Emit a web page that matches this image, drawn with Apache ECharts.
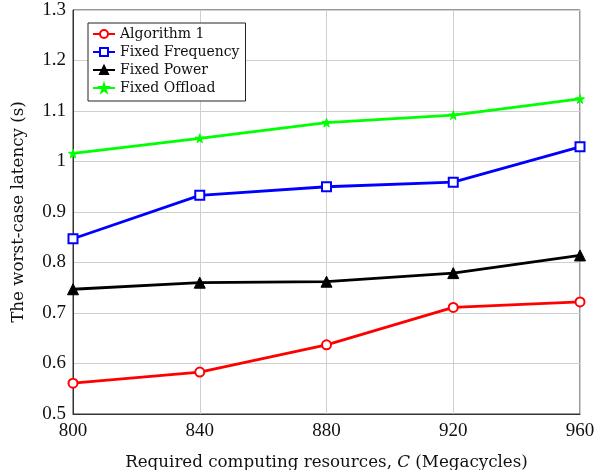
<!DOCTYPE html>
<html>
<head>
<meta charset="utf-8">
<script src="https://cdn.jsdelivr.net/npm/echarts@6/dist/echarts.min.js"></script>
<style>
  html, body { margin: 0; padding: 0; background: #fff; }
  #chart { width: 596px; height: 470px; }
</style>
</head>
<body>
<div id="chart"></div>
<script>
// Required computing resources C (Megacycles)
const resources = [800, 840, 880, 920, 960];

// Worst-case latency (s) for each scheme
const algorithm1 = [0.561, 0.583, 0.637, 0.711, 0.722];
const fixedFrequency = [0.847, 0.933, 0.950, 0.959, 1.029];
const fixedPower = [0.747, 0.760, 0.762, 0.779, 0.814];
const fixedOffload = [1.016, 1.046, 1.077, 1.092, 1.124];

const yTicks = { min: 0.5, max: 1.3, step: 0.1 };
const xTicks = { min: 800, max: 960, step: 40 };

const TICK_FONT = '"Liberation Serif", serif';
const TEXT_FONT = '"DejaVu Serif", serif';
const STAR = 'path://M50,0 L61,35 L98,35 L68,57 L79,91 L50,70 L21,91 L32,57 L2,35 L39,35 Z';

function pairs(values) {
  return resources.map((x, i) => [x, values[i]]);
}

function lineSeries(name, values, color, symbol, size, filled) {
  return {
    name: name,
    type: 'line',
    data: pairs(values),
    symbol: symbol,
    symbolSize: size,
    showAllSymbol: true,
    lineStyle: { color: color, width: 2.8 },
    itemStyle: filled
      ? { color: color, borderColor: color, borderWidth: 1 }
      : { color: color, borderColor: color, borderWidth: 2.4 },
    emphasis: { disabled: true },
    z: 3
  };
}

const chart = echarts.init(document.getElementById('chart'), null, { renderer: 'canvas' });

chart.setOption({
  animation: false,
  backgroundColor: '#ffffff',
  grid: {
    left: 73, right: 16, top: 10, bottom: 56,
    containLabel: false,
    outerBoundsMode: 'none',
    show: true, borderColor: '#333', borderWidth: 1, backgroundColor: 'transparent'
  },
  legend: {
    left: 88, top: 23,
    orient: 'vertical',
    backgroundColor: '#fff',
    borderColor: '#222', borderWidth: 1,
    padding: [3, 6, 5, 4],
    itemGap: 2,
    itemWidth: 22, itemHeight: 10,
    textStyle: { fontFamily: TEXT_FONT, fontSize: 14, lineHeight: 16, color: '#111' },
    data: ['Algorithm 1', 'Fixed Frequency', 'Fixed Power', 'Fixed Offload']
  },
  xAxis: {
    type: 'value',
    min: xTicks.min, max: xTicks.max, interval: xTicks.step,
    name: 'Required computing resources, {i|C} (Megacycles)',
    nameLocation: 'middle', nameGap: 40,
    nameTextStyle: {
      fontFamily: TEXT_FONT, fontSize: 16.7, color: '#111',
      rich: { i: { fontFamily: TEXT_FONT, fontSize: 16.7, fontStyle: 'italic', color: '#111' } }
    },
    axisLine: { show: true, lineStyle: { color: '#333', width: 1 } },
    axisTick: { show: false },
    axisLabel: { margin: 8, fontFamily: TICK_FONT, fontSize: 19, color: '#111' },
    splitLine: { show: true, lineStyle: { color: '#cfcfcf', width: 1 } }
  },
  yAxis: {
    type: 'value',
    min: yTicks.min, max: yTicks.max, interval: yTicks.step,
    name: 'The worst-case latency (s)',
    nameLocation: 'middle', nameGap: 46, nameRotate: 90,
    nameTextStyle: { fontFamily: TEXT_FONT, fontSize: 16.7, color: '#111' },
    axisLine: { show: true, lineStyle: { color: '#333', width: 1 } },
    axisTick: { show: false },
    axisLabel: {
      margin: 7, fontFamily: TICK_FONT, fontSize: 19, color: '#111',
      formatter: v => String(Math.round(v * 10) / 10)
    },
    splitLine: { show: true, lineStyle: { color: '#cfcfcf', width: 1 } }
  },
  series: [
    lineSeries('Algorithm 1', algorithm1, '#ff0000', 'emptyCircle', 9, false),
    lineSeries('Fixed Frequency', fixedFrequency, '#0000ff', 'emptyRect', 9, false),
    lineSeries('Fixed Power', fixedPower, '#000000', 'triangle', 11, true),
    lineSeries('Fixed Offload', fixedOffload, '#00ff00', STAR, 9, true)
  ]
});
</script>
</body>
</html>
